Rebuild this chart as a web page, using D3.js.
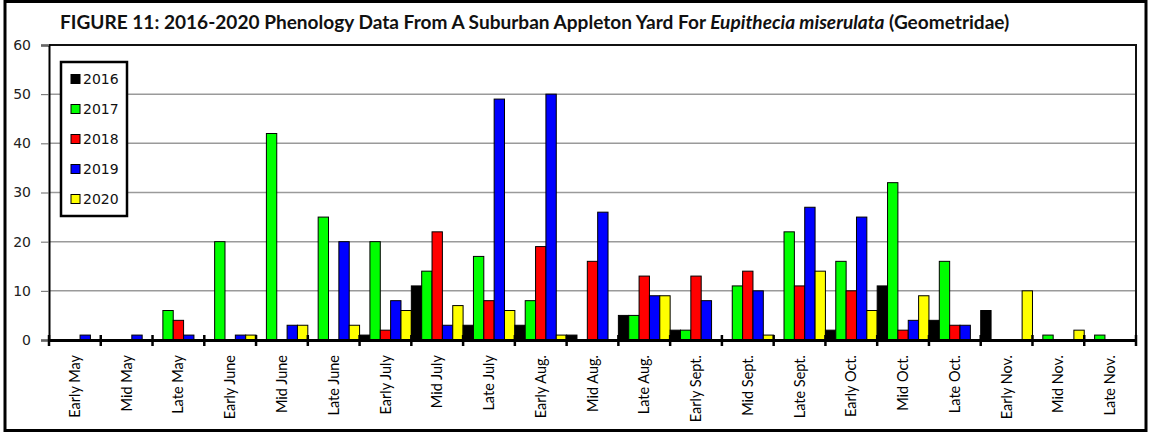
<!DOCTYPE html>
<html>
<head>
<meta charset="utf-8">
<script src="https://cdn.jsdelivr.net/npm/d3@7/dist/d3.min.js"></script>
<style>
  body { margin: 0; background: #fff; }
  svg { display: block; }
</style>
</head>
<body>
<div id="chart"></div>
<script>

var width = 1149;
var height = 434;
var margin = {top: 45, right: 13, bottom: 94, left: 49};

// data
var periods = ["Early May", "Mid May", "Late May", "Early June", "Mid June", "Late June",
  "Early July", "Mid July", "Late July", "Early Aug.", "Mid Aug.", "Late Aug.",
  "Early Sept.", "Mid Sept.", "Late Sept.", "Early Oct.", "Mid Oct.", "Late Oct.",
  "Early Nov.", "Mid Nov.", "Late Nov."];
var years = ["2016", "2017", "2018", "2019", "2020"];
var colors = ["#000000", "#00ff00", "#ff0000", "#0000ff", "#ffff00"];

var y2016 = [0, 0, 0, 0, 0, 0, 1, 11, 3, 3, 1, 5, 2, 0, 0, 2, 11, 4, 6, 0, 0];
var y2017 = [0, 0, 6, 20, 42, 25, 20, 14, 17, 8, 0, 5, 2, 11, 22, 16, 32, 16, 0, 1, 1];
var y2018 = [0, 0, 4, 0, 0, 0, 2, 22, 8, 19, 16, 13, 13, 14, 11, 10, 2, 3, 0, 0, 0];
var y2019 = [1, 1, 1, 1, 3, 20, 8, 3, 49, 50, 26, 9, 8, 10, 27, 25, 4, 3, 0, 0, 0];
var y2020 = [0, 0, 0, 1, 3, 3, 6, 7, 6, 1, 0, 9, 0, 1, 14, 6, 9, 0, 10, 2, 0];
var yTicks = [0, 10, 20, 30, 40, 50, 60];

var series = [y2016, y2017, y2018, y2019, y2020];

var svg = d3.select("#chart").append("svg")
  .attr("width", width)
  .attr("height", height);

// outer frame
svg.append("rect")
  .attr("x", 5).attr("y", 1.5)
  .attr("width", 1141).attr("height", 429)
  .attr("fill", "#fff")
  .attr("stroke", "#000")
  .attr("stroke-width", 3);

var x0 = d3.scaleBand()
  .domain(periods)
  .range([margin.left, width - margin.right])
  .padding(0);

var x1 = d3.scaleBand()
  .domain(years)
  .range([0, x0.bandwidth()])
  .padding(0);

var y = d3.scaleLinear()
  .domain([0, 60])
  .range([height - margin.bottom, margin.top]);

// gridlines
svg.append("g")
  .selectAll("line")
  .data(yTicks.filter(function(d) { return d > 0 && d < 60; }))
  .enter().append("line")
  .attr("x1", margin.left).attr("x2", width - margin.right)
  .attr("y1", function(d) { return y(d); })
  .attr("y2", function(d) { return y(d); })
  .attr("stroke", "#9a9a9a")
  .attr("stroke-width", 1.5);

// plot frame (top + right)
svg.append("path")
  .attr("d", "M" + margin.left + "," + y(60) + "H" + (width - margin.right) + "V" + y(0))
  .attr("fill", "none")
  .attr("stroke", "#111")
  .attr("stroke-width", 2);

// bars
var rows = periods.map(function(p, i) {
  return years.map(function(yr, j) { return {period: p, year: yr, v: series[j][i], c: colors[j]}; });
});

svg.append("g")
  .selectAll("g")
  .data(rows)
  .enter().append("g")
  .attr("transform", function(d, i) { return "translate(" + x0(periods[i]) + ",0)"; })
  .selectAll("rect")
  .data(function(d) { return d.filter(function(e) { return e.v > 0; }); })
  .enter().append("rect")
  .attr("x", function(d) { return x1(d.year); })
  .attr("y", function(d) { return y(d.v); })
  .attr("width", x1.bandwidth())
  .attr("height", function(d) { return y(0) - y(d.v); })
  .attr("fill", function(d) { return d.c; })
  .attr("stroke", "#000")
  .attr("stroke-width", 1);

// y axis
var yAxis = svg.append("g")
  .attr("transform", "translate(" + margin.left + ",0)")
  .call(d3.axisLeft(y).tickValues(yTicks).tickSize(8).tickPadding(10));
yAxis.select(".domain").attr("stroke", "#000").attr("stroke-width", 2);
yAxis.selectAll(".tick line").attr("stroke", "#666");
yAxis.selectAll("text")
  .attr("font-family", "DejaVu Sans")
  .attr("font-size", 14)
  .attr("fill", "#222");

// x axis
var xAxis = svg.append("g")
  .attr("transform", "translate(0," + y(0) + ")")
  .call(d3.axisBottom(x0).tickSize(0).tickPadding(0));
xAxis.select(".domain").attr("stroke", "#000").attr("stroke-width", 3);
xAxis.selectAll("text")
  .attr("font-family", "Lato")
  .attr("font-size", 14.5)
  .attr("fill", "#000")
  .attr("text-anchor", "end")
  .attr("transform", "rotate(-90)")
  .attr("x", -15)
  .attr("y", 0)
  .attr("dy", "0.35em");

// boundary ticks between periods
var bounds = periods.map(function(p) { return x0(p); }).concat([x0.range()[1]]);
xAxis.append("g")
  .selectAll("line")
  .data(bounds)
  .enter().append("line")
  .attr("x1", function(d) { return d; })
  .attr("x2", function(d) { return d; })
  .attr("y1", -5).attr("y2", 6)
  .attr("stroke", "#000")
  .attr("stroke-width", 2.5);

// legend
var legend = svg.append("g").attr("transform", "translate(61,62)");
legend.append("rect")
  .attr("width", 66).attr("height", 154)
  .attr("fill", "#fff")
  .attr("stroke", "#000")
  .attr("stroke-width", 2.5);
var item = legend.selectAll(".item")
  .data(years)
  .enter().append("g")
  .attr("class", "item")
  .attr("transform", function(d, i) { return "translate(10," + (17 + i * 30) + ")"; });
item.append("rect")
  .attr("x", 0).attr("y", -4.5)
  .attr("width", 9).attr("height", 9)
  .attr("fill", function(d, i) { return colors[i]; })
  .attr("stroke", "#000")
  .attr("stroke-width", 1);
item.append("text")
  .attr("x", 12)
  .attr("dy", "0.36em")
  .attr("font-family", "DejaVu Sans")
  .attr("font-size", 14)
  .attr("fill", "#111")
  .text(function(d) { return d; });

// title
var title = svg.append("text")
  .attr("x", 60)
  .attr("y", 29)
  .attr("font-family", "Lato")
  .attr("font-weight", "bold")
  .attr("font-size", 17)
  .attr("fill", "#111");
title.append("tspan").text("FIGURE 11: 2016-2020 Phenology Data From A Suburban Appleton Yard For ");
title.append("tspan").attr("font-style", "italic").text("Eupithecia miserulata");
title.append("tspan").text(" (Geometridae)");
var tw = title.node().getComputedTextLength();
title.attr("font-size", 17 * 950 / tw);

</script>
</body>
</html>
